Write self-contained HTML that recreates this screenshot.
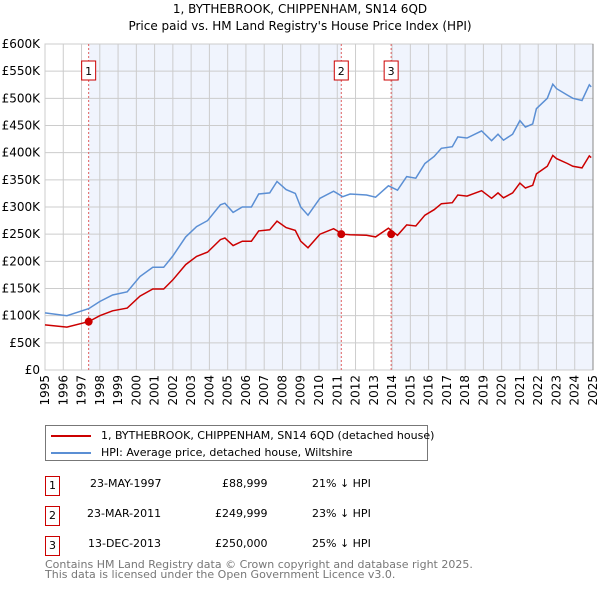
<!DOCTYPE html>
<html><head><meta charset="utf-8"><style>
body{margin:0;background:#fff;font-family:"DejaVu Sans","Liberation Sans",sans-serif;}
svg text{font-family:"DejaVu Sans","Liberation Sans",sans-serif;}
.row div{white-space:nowrap;}
</style></head><body>
<svg id="c" width="600" height="590" xmlns="http://www.w3.org/2000/svg"></svg>
<script>
const hpiYears=[1995,1996.2,1997.4,1998,1998.7,1999.5,2000.2,2000.9,2001.5,2002,2002.7,2003.3,2003.9,2004.6,2004.85,2005.3,2005.8,2006.3,2006.7,2007.3,2007.7,2008.2,2008.7,2009.0,2009.4,2010.05,2010.8,2011.3,2011.7,2012.6,2013.1,2013.8,2014.3,2014.8,2015.3,2015.8,2016.3,2016.7,2017.3,2017.6,2018.1,2018.9,2019.45,2019.8,2020.1,2020.6,2021.0,2021.3,2021.7,2021.9,2022.5,2022.8,2023.0,2023.6,2023.9,2024.4,2024.8,2024.9];
const hpiValues=[105,100,113,126,138,144,172,189,189,210,245,264,275,304,307,290,300,300,324,326,347,332,325,300,285,316,329,319,324,322,318,339,331,356,353,380,393,408,411,429,427,440,422,434,423,434,459,447,453,481,500,526,518,506,500,496,525,521];
const priceValues=[83,79,89,100,109,114,136,149,149,166,194,209,217,240,243,229,237,237,256,258,274,262,257,237,225,250,260,250,249,248,245,261,248,267,265,285,295,306,308,322,320,330,316,326,317,326,344,335,340,361,375,395,389,380,375,372,394,391];
const saleYears=[1997.39,2011.22,2013.95];
const saleValues=[88.999,249.999,250];
const saleLabels=["1","2","3"];
const yTicks=[0,50,100,150,200,250,300,350,400,450,500,550,600];
const yTickLabels=["£0","£50K","£100K","£150K","£200K","£250K","£300K","£350K","£400K","£450K","£500K","£550K","£600K"];
const xTicks=[1995,1996,1997,1998,1999,2000,2001,2002,2003,2004,2005,2006,2007,2008,2009,2010,2011,2012,2013,2014,2015,2016,2017,2018,2019,2020,2021,2022,2023,2024,2025];

const NS="http://www.w3.org/2000/svg",svg=document.getElementById('c');
const X0=45,X1=593,Y0=370,Y1=44;
const xs=y=>X0+(y-1995)/30*(X1-X0);
const ys=v=>Y0-v/600*(Y0-Y1);
function el(t,a,p){const e=document.createElementNS(NS,t);for(const k in a)e.setAttribute(k,a[k]);(p||svg).appendChild(e);return e;}
function txt(s,a){const e=el('text',a);e.textContent=s;return e;}

let t=txt("1, BYTHEBROOK, CHIPPENHAM, SN14 6QD",{x:300,y:13,'text-anchor':'middle','font-size':12});


t=txt("Price paid vs. HM Land Registry's House Price Index (HPI)",{x:300,y:30,'text-anchor':'middle','font-size':12});



let r=el('rect',{x:xs(saleYears[0]),y:Y1,width:xs(saleYears[1])-xs(saleYears[0]),height:Y0-Y1,fill:'#f0f4fd'});


r=el('rect',{x:xs(saleYears[2]),y:Y1,width:X1-xs(saleYears[2]),height:Y0-Y1,fill:'#f0f4fd'});



yTicks.forEach((v,i)=>{
 const l=el('line',{x1:X0,x2:X1,y1:ys(v),y2:ys(v),stroke:'#ccc','stroke-width':1});
 
 
 const tt=txt(yTickLabels[i],{x:40,y:ys(v)+4,'text-anchor':'end','font-size':12});
 
 
});
xTicks.forEach(y=>{
 const l=el('line',{x1:xs(y),x2:xs(y),y1:Y1,y2:Y0,stroke:'#ccc','stroke-width':1});
 
 
 const tt=txt(String(y),{x:0,y:0,'text-anchor':'end','font-size':12,transform:`translate(${xs(y)+4},375) rotate(-90)`});
 
 
});
r=el('rect',{x:X0,y:Y1,width:X1-X0,height:Y0-Y1,fill:'none',stroke:'#ccc'});


let bl=el('line',{x1:X1,x2:X1,y1:Y1,y2:Y0,stroke:'#888'});



saleYears.forEach((y,i)=>{
 const l=el('line',{x1:xs(y),x2:xs(y),y1:Y1,y2:Y0,stroke:'#e06060','stroke-dasharray':'2,2','stroke-width':1});
 
 
});

const pts=(vals)=>hpiYears.map((y,i)=>xs(y).toFixed(1)+','+ys(vals[i]).toFixed(1)).join(' ');
let p=el('polyline',{points:pts(hpiValues),fill:'none',stroke:'#5b8fd4','stroke-width':1.5});


p=el('polyline',{points:pts(priceValues),fill:'none',stroke:'#cc0000','stroke-width':1.5});



saleYears.forEach((y,i)=>{
 const c=el('circle',{cx:xs(y),cy:ys(saleValues[i]),r:4,fill:'#cc0000'});
 
 
 const b=el('rect',{x:xs(y)-7,y:61,width:14,height:19,fill:'#fff',stroke:'#cc0000'});
 
 
 const tt=txt(saleLabels[i],{x:xs(y),y:75,'text-anchor':'middle','font-size':11});
 
 
});
</script>
<div style="position:absolute;left:45px;top:425px;width:383px;height:36px;border:1px solid #777;box-sizing:border-box;font-size:11px;">
 <div style="position:absolute;left:5px;top:3px;white-space:nowrap;"><span style="display:inline-block;width:40px;height:2px;background:#cc0000;vertical-align:middle;margin-right:10px;"></span>1, BYTHEBROOK, CHIPPENHAM, SN14 6QD (detached house)</div>
 <div style="position:absolute;left:5px;top:20px;white-space:nowrap;"><span style="display:inline-block;width:40px;height:2px;background:#5b8fd4;vertical-align:middle;margin-right:10px;"></span>HPI: Average price, detached house, Wiltshire</div>
</div>
<div style="position:absolute;left:0;top:0;font-size:11px;">
 <div class="row">
  <div style="position:absolute;left:45px;top:476px;width:13px;height:18px;border:1px solid #cc0000;text-align:center;line-height:18px;">1</div>
  <div style="position:absolute;left:90px;top:477px;">23-MAY-1997</div>
  <div style="position:absolute;left:222px;top:477px;">£88,999</div>
  <div style="position:absolute;left:312px;top:477px;">21% ↓ HPI</div>
 </div>
 <div class="row">
  <div style="position:absolute;left:45px;top:506px;width:13px;height:18px;border:1px solid #cc0000;text-align:center;line-height:18px;">2</div>
  <div style="position:absolute;left:87px;top:507px;">23-MAR-2011</div>
  <div style="position:absolute;left:215px;top:507px;">£249,999</div>
  <div style="position:absolute;left:312px;top:507px;">23% ↓ HPI</div>
 </div>
 <div class="row">
  <div style="position:absolute;left:45px;top:536px;width:13px;height:18px;border:1px solid #cc0000;text-align:center;line-height:18px;">3</div>
  <div style="position:absolute;left:88px;top:537px;">13-DEC-2013</div>
  <div style="position:absolute;left:215px;top:537px;">£250,000</div>
  <div style="position:absolute;left:312px;top:537px;">25% ↓ HPI</div>
 </div>
</div>
<div style="position:absolute;left:45px;top:560px;font-size:11px;color:#777;line-height:10px;white-space:nowrap;">Contains HM Land Registry data © Crown copyright and database right 2025.<br>This data is licensed under the Open Government Licence v3.0.</div>
</body></html>
